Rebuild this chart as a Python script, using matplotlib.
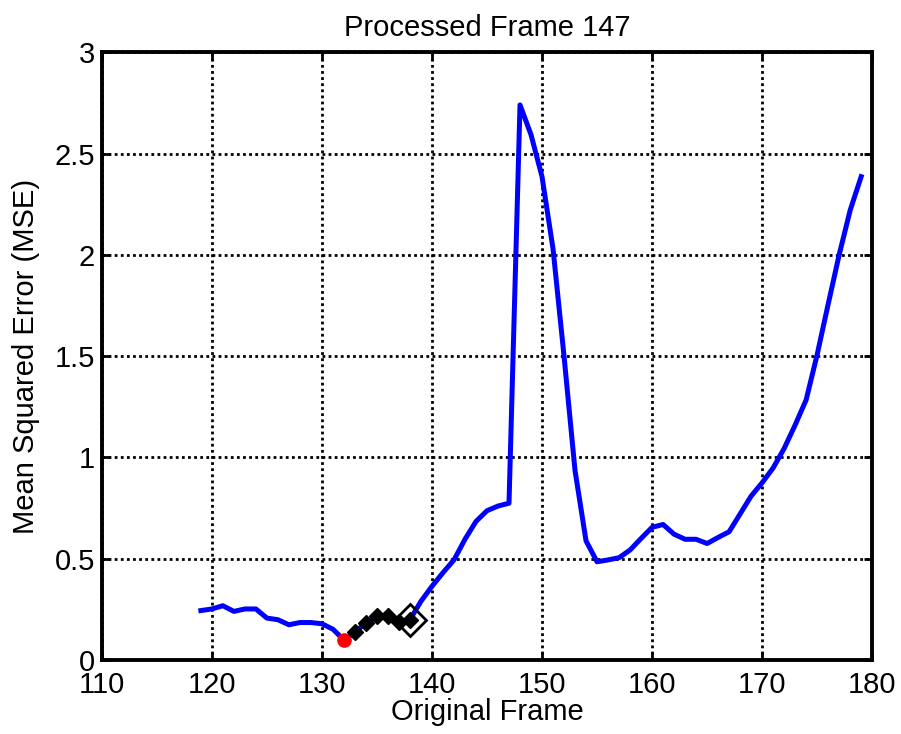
import matplotlib
matplotlib.use('Agg')
import matplotlib.pyplot as plt
import numpy as np

plt.rcParams['font.family'] = ['Liberation Sans', 'DejaVu Sans']

# MSE per original frame
frames = np.arange(119, 180)
mse = [0.244, 0.252, 0.268, 0.240, 0.252, 0.252, 0.207, 0.199, 0.174, 0.185,
       0.185, 0.179, 0.152, 0.099, 0.136, 0.185, 0.215, 0.219, 0.189, 0.199,
       0.290, 0.364, 0.431, 0.494, 0.596, 0.684, 0.737, 0.760, 0.774, 2.740,
       2.593, 2.386, 2.030, 1.500, 0.935, 0.588, 0.485, 0.494, 0.505, 0.543,
       0.600, 0.655, 0.669, 0.621, 0.596, 0.596, 0.575, 0.605, 0.633, 0.721,
       0.809, 0.875, 0.948, 1.044, 1.160, 1.284, 1.507, 1.756, 2.000, 2.220,
       2.386]

best_frame = 132
candidate_frames = [133, 134, 135, 136, 137, 138]
chosen_frame = 138

fig = plt.figure(figsize=(9.01, 7.34), dpi=100)
ax = fig.add_axes([0.113, 0.1008, 0.855, 0.828])

ax.plot(frames, mse, color='#0000ff', lw=3.6, zorder=3)
mse_at = dict(zip(frames, mse))
ax.plot([best_frame], [mse_at[best_frame]], 'o', color='red', ms=9.5, zorder=4)
ax.plot(candidate_frames, [mse_at[f] for f in candidate_frames], 'D',
        color='black', ms=8, zorder=4)
ax.plot([chosen_frame], [mse_at[chosen_frame]], 'D', mfc='none', mec='black',
        mew=2, ms=16, zorder=5)

ax.set_xlim(110, 180)
ax.set_ylim(0, 3)
ax.set_xticks(np.arange(110, 181, 10))
ax.set_yticks([0, 0.5, 1, 1.5, 2, 2.5, 3])
ax.set_yticklabels(['0', '0.5', '1', '1.5', '2', '2.5', '3'])
ax.grid(True, color='black', ls=(0, (1, 1.2)), lw=2)
ax.tick_params(direction='in', top=True, right=True, length=6, width=2,
               labelsize=21, pad=5)
ax.tick_params(axis='x', pad=8)
for s in ax.spines.values():
    s.set_linewidth(2.8)

ax.set_title('Processed Frame 147', fontsize=21, pad=12)
ax.set_xlabel('Original Frame', fontsize=21, labelpad=-1)
ax.set_ylabel('Mean Squared Error (MSE)', fontsize=21, labelpad=10)

fig.savefig('out.png', dpi=100)
